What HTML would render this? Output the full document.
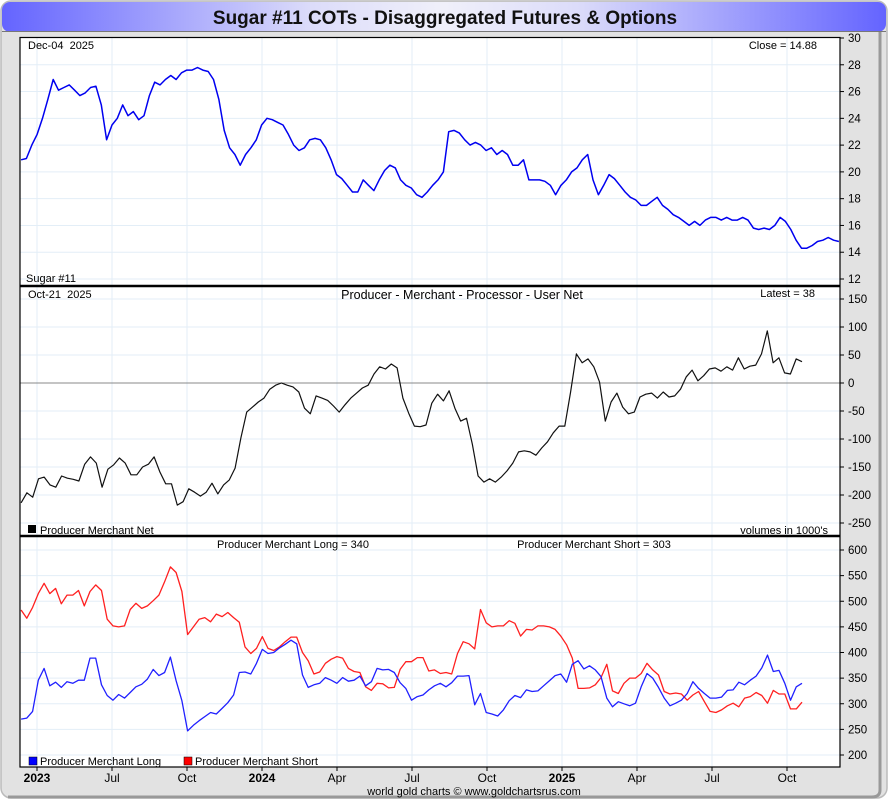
<!DOCTYPE html>
<html><head><meta charset="utf-8"><style>
body{margin:0;background:#fff;}
svg text{font-family:"Liberation Sans",sans-serif;white-space:pre;}
</style></head><body>
<svg id="c" width="890" height="800" xmlns="http://www.w3.org/2000/svg">
<defs>
<linearGradient id="tg" x1="0" x2="1" y1="0" y2="0">
<stop offset="0" stop-color="#6464ff"/><stop offset="0.35" stop-color="#dcdcfa"/><stop offset="0.5" stop-color="#f0f0fa"/><stop offset="0.65" stop-color="#dcdcfa"/><stop offset="1" stop-color="#6464ff"/></linearGradient>
<clipPath id="clipTop"><rect x="20" y="38" width="820" height="247"/></clipPath>
<clipPath id="clipMid"><rect x="20" y="287" width="820" height="248"/></clipPath>
<clipPath id="clipBot"><rect x="20" y="537" width="820" height="230"/></clipPath>
</defs>
<rect x="0" y="0" width="890" height="800" fill="#fff"/>
<rect x="1" y="1" width="886" height="797" rx="10" fill="#e2e2e2" stroke="#bbb" stroke-width="1.5"/>
<path d="M880 8 V790 Q880 797 872 797 H8" fill="none" stroke="#999" stroke-width="3"/>
<rect x="2" y="2" width="884" height="30" rx="8" fill="url(#tg)"/>
<line x1="2" y1="31.5" x2="886" y2="31.5" stroke="#777" stroke-width="1"/>
<text x="445" y="24" text-anchor="middle" font-size="19" font-weight="bold" fill="#111">Sugar #11 COTs - Disaggregated Futures &amp; Options</text>
<rect x="20" y="37" width="820" height="730" fill="#fff"/>
<g id="grid"></g>
<g id="marks"></g>
<g id="labels"></g>
<rect x="20" y="37.5" width="820" height="729.5" fill="none" stroke="#000" stroke-width="1.2"/>
<line x1="20" y1="286" x2="840" y2="286" stroke="#000" stroke-width="2.5"/>
<line x1="20" y1="536" x2="840" y2="536" stroke="#000" stroke-width="2.5"/>
<text x="28" y="49" font-size="11" xml:space="preserve">Dec-04  2025</text>
<text x="817" y="49" font-size="11" text-anchor="end">Close = 14.88</text>
<text x="26" y="282" font-size="11">Sugar #11</text>
<text x="28" y="298" font-size="11" xml:space="preserve">Oct-21  2025</text>
<text x="462" y="299" font-size="12.5" text-anchor="middle">Producer - Merchant - Processor - User Net</text>
<text x="815" y="297" font-size="11" text-anchor="end">Latest = 38</text>
<rect x="28" y="525" width="8" height="8" fill="#000"/>
<text x="40" y="534" font-size="11">Producer Merchant Net</text>
<text x="828" y="534" font-size="11" text-anchor="end">volumes in 1000's</text>
<text x="293" y="548" font-size="11" text-anchor="middle">Producer Merchant Long = 340</text>
<text x="594" y="548" font-size="11" text-anchor="middle">Producer Merchant Short = 303</text>
<rect x="29" y="757" width="8" height="8" fill="#0000ff" stroke="#000" stroke-width="0.5"/>
<text x="40" y="765" font-size="11">Producer Merchant Long</text>
<rect x="184" y="757" width="8" height="8" fill="#ff0000" stroke="#000" stroke-width="0.5"/>
<text x="195" y="765" font-size="11">Producer Merchant Short</text>
<text x="474" y="795" font-size="11" text-anchor="middle">world gold charts © www.goldchartsrus.com</text>
</svg>
<script>
const priceTicks=[12,14,16,18,20,22,24,26,28,30];
const netTicks=[-250,-200,-150,-100,-50,0,50,100,150];
const posTicks=[200,250,300,350,400,450,500,550,600];
const xTickLabels=["2023","Jul","Oct","2024","Apr","Jul","Oct","2025","Apr","Jul","Oct"];
const xTickDates=[2023.25,2023.5,2023.75,2024.0,2024.25,2024.5,2024.75,2025.0,2025.25,2025.5,2025.75];
const xTickBold=[true,false,false,true,false,false,false,true,false,false,false];
const priceStart=2023.197, priceEnd=2025.923;
const prices=[20.9,21.0,22.0,22.8,24.0,25.4,26.9,26.1,26.3,26.5,26.1,25.7,25.9,26.3,26.4,25.0,22.4,23.5,24.0,25.0,24.2,24.5,23.9,24.2,25.7,26.7,26.5,26.9,27.2,26.9,27.4,27.6,27.6,27.8,27.6,27.5,26.9,25.4,23.1,21.8,21.3,20.5,21.3,21.8,22.4,23.5,24.0,23.9,23.7,23.5,22.8,22.0,21.6,21.8,22.4,22.5,22.4,21.8,20.9,19.8,19.5,19.0,18.5,18.5,19.4,19.0,18.6,19.4,20.1,20.5,20.3,19.4,19.0,18.8,18.3,18.1,18.5,19.0,19.4,20.0,23.0,23.1,22.9,22.4,22.0,22.2,22.0,21.6,21.8,21.3,21.6,21.3,20.5,20.5,20.9,19.4,19.4,19.4,19.3,19.0,18.3,19.0,19.4,20.0,20.3,20.9,21.3,19.4,18.3,19.0,19.8,19.5,19.0,18.5,18.1,17.9,17.5,17.5,17.8,18.1,17.5,17.2,16.8,16.6,16.3,16.0,16.3,16.0,16.4,16.6,16.6,16.4,16.6,16.4,16.4,16.6,16.4,15.8,15.7,15.8,15.7,16.0,16.6,16.3,15.7,14.9,14.3,14.3,14.5,14.8,14.9,15.1,14.9,14.8];
const cotStart=2023.197, cotEnd=2025.80;
const netValues=[-214,-196,-204,-171,-168,-182,-186,-166,-170,-172,-175,-145,-132,-143,-186,-154,-146,-134,-143,-164,-164,-150,-145,-132,-159,-180,-180,-218,-212,-189,-195,-202,-195,-179,-198,-182,-173,-152,-98,-52,-43,-34,-27,-11,-4,0,-4,-7,-16,-45,-55,-23,-27,-31,-41,-52,-39,-27,-18,-9,-4,16,29,25,34,27,-27,-54,-77,-78,-75,-36,-20,-32,-14,-45,-68,-63,-109,-166,-177,-171,-177,-168,-157,-143,-123,-121,-123,-129,-116,-105,-89,-77,-77,-16,52,36,43,29,2,-68,-34,-18,-43,-55,-52,-25,-20,-18,-27,-16,-25,-23,-11,11,23,4,13,25,27,21,29,23,45,25,30,32,52,93,36,45,18,16,43,38];
const longValues=[270,272,285,346,369,335,342,332,343,340,346,346,389,389,337,316,307,318,311,322,333,338,348,367,355,361,391,345,306,247,258,267,275,283,280,291,302,317,361,362,358,379,406,398,400,409,416,424,417,356,332,337,340,351,346,340,351,344,346,354,335,343,369,366,367,361,341,330,307,314,317,327,335,340,333,341,354,354,355,298,320,283,280,276,288,306,316,312,327,324,325,335,345,355,358,342,377,384,368,374,366,353,311,294,304,300,296,301,333,359,350,332,311,296,301,307,320,343,330,320,311,311,313,326,327,342,337,346,354,370,395,363,365,340,307,333,340];
const shortValues=[483,467,488,515,535,515,525,495,512,512,521,491,519,532,521,465,452,450,452,484,496,486,491,501,512,538,567,556,519,435,450,465,468,460,475,470,478,468,459,411,398,408,431,408,404,411,421,430,430,400,384,358,362,379,387,392,389,369,363,361,333,326,340,339,331,332,367,382,382,390,390,364,366,359,361,358,398,421,417,407,484,458,450,452,452,462,457,432,445,444,452,452,450,445,432,415,389,330,330,331,337,351,377,325,320,340,350,350,359,379,366,356,324,319,321,319,307,317,324,304,285,283,288,296,301,294,311,314,322,316,301,326,319,319,290,290,303];

const NS="http://www.w3.org/2000/svg";
const xS=t=>562+(t-2025)*300;
const yPrice=v=>38+(30-v)*(241/18);
const yNet=v=>383-v*0.56;
const yPos=v=>550+(600-v)*0.5125;
const grid=document.getElementById('grid'),marks=document.getElementById('marks'),labels=document.getElementById('labels');
function mk(tag,attrs,parent){const e=document.createElementNS(NS,tag);for(const k in attrs)e.setAttribute(k,attrs[k]);parent.appendChild(e);return e;}
const GC="#e3eef7";
xTickDates.forEach((d,i)=>{
  const x=xS(d);
  const g=mk('line',{x1:x,x2:x,y1:38,y2:767,stroke:GC,'stroke-width':1},grid);
  
  
  mk('line',{x1:x,x2:x,y1:767,y2:771,stroke:'#000'},labels);
  const t=mk('text',{x:x,y:782,'font-size':12,'text-anchor':'middle','font-weight':xTickBold[i]?'bold':'normal'},labels);
  t.textContent=xTickLabels[i];
  
  
});
function yAxis(ticks,yf,top,bot,name){
  ticks.forEach(v=>{
    const y=yf(v);
    if(y>top&&y<bot){const g=mk('line',{x1:20,x2:840,y1:y,y2:y,stroke:GC},grid);
      
      }
    mk('line',{x1:840,x2:844,y1:y,y2:y,stroke:'#000'},labels);
    const t=mk('text',{x:848,y:y+4,'font-size':11.5},labels);
    t.textContent=v;
    
    
  });
}
yAxis(priceTicks,yPrice,38,285,'price-axis');
yAxis(netTicks,yNet,288,535,'net-axis');
yAxis(posTicks,yPos,538,767,'position-axis');
function series(vals,t0,t1,yf,color,w,clip,name){
  const n=vals.length;
  const pts=vals.map((v,i)=>xS(t0+(t1-t0)*i/(n-1)).toFixed(1)+','+yf(v).toFixed(1)).join(' ');
  const p=mk('polyline',{points:pts,fill:'none',stroke:color,'stroke-width':w,'clip-path':'url(#'+clip+')','stroke-linejoin':'round'},marks);
  
  
}
series(prices,priceStart,priceEnd,yPrice,'#0000f0',1.5,'clipTop','price-line');
const zl=mk('line',{x1:20,x2:840,y1:yNet(0),y2:yNet(0),stroke:'#888','stroke-width':1},marks);


series(netValues,cotStart,cotEnd,yNet,'#111',1.2,'clipMid','net-line');
series(shortValues,cotStart,cotEnd,yPos,'#ff2020',1.3,'clipBot','short-line');
series(longValues,cotStart,cotEnd,yPos,'#2020ff',1.3,'clipBot','long-line');
</script>
</body></html>
